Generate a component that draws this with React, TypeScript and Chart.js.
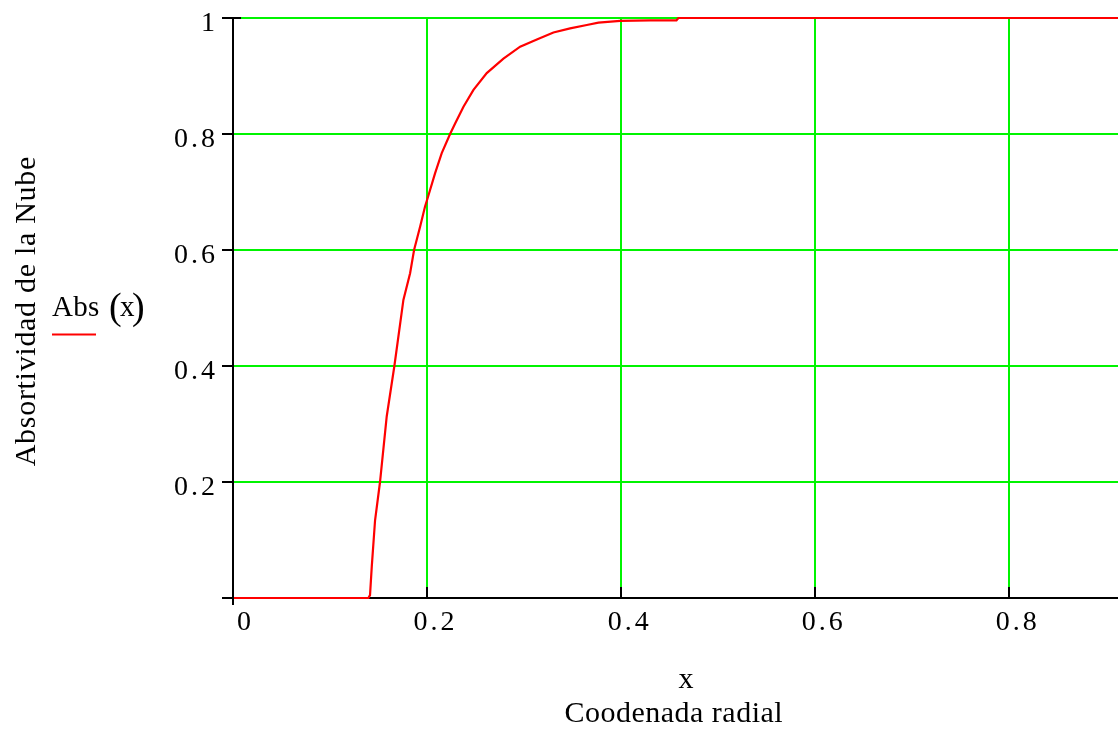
import React, { useEffect, useRef } from "react";
import { Chart, registerables } from "chart.js";

Chart.register(...registerables);

const absX = [0, 0.1395, 0.1412, 0.143, 0.1464, 0.1515, 0.1584, 0.1663, 0.1756, 0.1825, 0.1866, 0.1928, 0.1979, 0.2003, 0.2082, 0.2151, 0.2237, 0.2289, 0.2375, 0.2478, 0.2615, 0.2787, 0.2959, 0.3131, 0.3302, 0.3474, 0.3646, 0.3766, 0.399, 0.430, 0.457, 0.459, 0.912];
const absY = [0, 0, 0.005, 0.054, 0.134, 0.2, 0.313, 0.4, 0.514, 0.56, 0.6, 0.64, 0.675, 0.688, 0.732, 0.767, 0.8, 0.818, 0.847, 0.876, 0.905, 0.93, 0.9506, 0.963, 0.975, 0.982, 0.988, 0.992, 0.995, 0.996, 0.996, 1, 1];

const xTickValues = [0, 0.2, 0.4, 0.6, 0.8];
const xTickLabels = ["0", "0.2", "0.4", "0.6", "0.8"];
const yTickValues = [0.2, 0.4, 0.6, 0.8, 1];
const yTickLabels = ["0.2", "0.4", "0.6", "0.8", "1"];

const seriesLabel = "Abs";
const seriesArg = "x";
const yTitle = "Absortividad de la Nube";
const xTitle1 = "x";
const xTitle2 = "Coodenada radial";

const FONT = "'Liberation Serif', 'Times New Roman', serif";
const GREEN = "#00f400";

function spacedText(ctx: any, text: string, x: number, y: number, spacing: number, align: string) {
  ctx.letterSpacing = spacing + "px";
  const w = ctx.measureText(text).width - spacing;
  let sx = x;
  if (align === "center") sx = x - w / 2;
  else if (align === "right") sx = x - w;
  ctx.textAlign = "left";
  ctx.fillText(text, sx, y);
  ctx.letterSpacing = "0px";
  return w;
}

export default function App() {
  const ref = useRef<HTMLCanvasElement | null>(null);

  useEffect(() => {
    document.body.style.margin = "0";
    const canvas = ref.current;
    if (!canvas) return;

    const decor = {
      id: "decor",
      afterDraw(chart: any) {
        const ctx = chart.ctx;
        const ca = chart.chartArea;
        const xs = chart.scales.x;
        const ys = chart.scales.y;
        ctx.save();
        ctx.strokeStyle = "#000";
        ctx.lineWidth = 2;
        // y ticks (outward)
        [0, ...yTickValues].forEach((v) => {
          const py = Math.round(ys.getPixelForValue(v));
          ctx.beginPath();
          ctx.moveTo(ca.left - 11, py);
          ctx.lineTo(ca.left + (v === 1 ? 8 : 0), py);
          ctx.stroke();
        });
        // x ticks (inward)
        xTickValues.forEach((v) => {
          const px = Math.round(xs.getPixelForValue(v));
          ctx.beginPath();
          ctx.moveTo(px, ca.bottom - 11);
          ctx.lineTo(px, ca.bottom + (v === 0 ? 7 : 0));
          ctx.stroke();
        });

        ctx.fillStyle = "#000";
        ctx.textBaseline = "alphabetic";
        // tick labels
        ctx.font = `28px ${FONT}`;
        yTickValues.forEach((v, i) => {
          const py = ys.getPixelForValue(v);
          spacedText(ctx, yTickLabels[i], 215, py + 13, 3, "right");
        });
        xTickValues.forEach((v, i) => {
          const px = xs.getPixelForValue(v);
          spacedText(ctx, xTickLabels[i], px + (v === 0 ? 11 : 7), 630, 3, "center");
        });

        // x titles
        ctx.font = `30px ${FONT}`;
        spacedText(ctx, xTitle1, 686, 688, 0.5, "center");
        spacedText(ctx, xTitle2, 673.5, 722, 0.5, "center");
        // y title
        ctx.save();
        ctx.translate(35, 311.5);
        ctx.rotate(-Math.PI / 2);
        spacedText(ctx, yTitle, 0, 0, 0.7, "center");
        ctx.restore();
        // legend
        ctx.font = `29px ${FONT}`;
        spacedText(ctx, seriesLabel, 52, 316, 0.3, "left");
        ctx.font = `38px ${FONT}`;
        ctx.textAlign = "left";
        ctx.fillText("(", 109, 319);
        ctx.fillText(")", 132, 319);
        ctx.font = `29px ${FONT}`;
        ctx.fillText(seriesArg, 120, 316);
        ctx.strokeStyle = "#ff0000";
        ctx.lineWidth = 2;
        ctx.beginPath();
        ctx.moveTo(52, 334.5);
        ctx.lineTo(96, 334.5);
        ctx.stroke();
        ctx.restore();
      },
    };

    const chart = new Chart(canvas, {
      type: "line",
      data: {
        datasets: [
          {
            label: seriesLabel,
            data: absX.map((x, i) => ({ x, y: absY[i] })),
            borderColor: "#ff0000",
            borderWidth: 2.2,
            pointRadius: 0,
            tension: 0,
            fill: false,
            clip: 4,
          },
        ],
      },
      options: {
        animation: false,
        responsive: false,
        maintainAspectRatio: false,
        layout: { padding: { top: 18, right: 0, left: 0, bottom: 0 } },
        plugins: { legend: { display: false }, tooltip: { enabled: false } },
        scales: {
          x: {
            type: "linear",
            min: 0,
            max: 0.912,
            afterBuildTicks: (s: any) => {
              s.ticks = xTickValues.map((v) => ({ value: v }));
            },
            afterFit: (s: any) => {
              s.height = 138;
            },
            ticks: { display: false },
            grid: { color: GREEN, lineWidth: 2, drawTicks: false },
            border: { display: true, color: "#000", width: 2 },
          },
          y: {
            type: "linear",
            min: 0,
            max: 1,
            afterBuildTicks: (s: any) => {
              s.ticks = [{ value: 0 }, ...yTickValues.map((v) => ({ value: v }))];
            },
            afterFit: (s: any) => {
              s.width = 233;
            },
            ticks: { display: false },
            grid: { color: GREEN, lineWidth: 2, drawTicks: false },
            border: { display: true, color: "#000", width: 2 },
          },
        },
      },
      plugins: [decor],
    });
    return () => chart.destroy();
  }, []);

  return (
    <div style={{ position: "fixed", left: 0, top: 0, width: 1118, height: 736, background: "#fff" }}>
      <canvas ref={ref} width={1118} height={736} style={{ width: 1118, height: 736, display: "block" }} />
    </div>
  );
}
